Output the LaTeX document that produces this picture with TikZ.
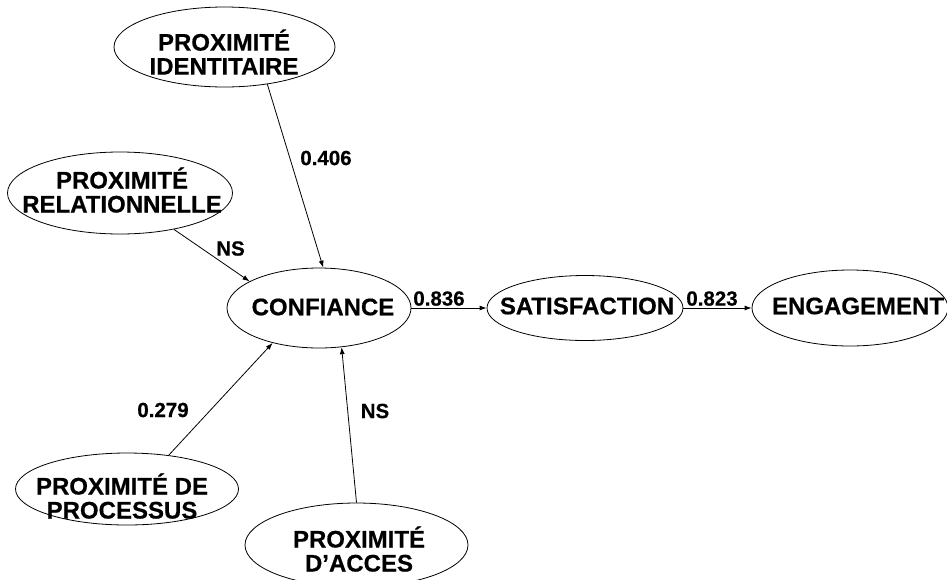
\documentclass[tikz,border=0pt]{standalone}
\usepackage{fontspec}
\setmainfont{Liberation Sans}[BoldFeatures={FakeBold=0.5}]
\usetikzlibrary{shapes.geometric,arrows.meta}
\tikzset{
  ell/.style={draw=black, line width=0.8pt, shape=ellipse, inner sep=0pt},
  nodetext/.style={font=\fontsize{24}{24}\selectfont\bfseries, align=center, inner sep=0pt, text=black},
  conn/.style={draw=black, line width=0.8pt, -{Latex[length=7pt,width=5pt]}},
  coef/.style={font=\fontsize{20.5}{22}\selectfont\bfseries, inner sep=0pt, text=black}
}
\begin{document}
\begin{tikzpicture}[x=1pt,y=-1pt]
\useasboundingbox (0,0) rectangle (947,579);
% ellipses
\node[ell, minimum width=221pt, minimum height=80pt] (iden) at (224.5,47) {};
\node[ell, minimum width=225pt, minimum height=82pt] (rel) at (120,193) {};
\node[ell, minimum width=184pt, minimum height=80pt] (conf) at (319,308) {};
\node[ell, minimum width=196pt, minimum height=65pt] (sat) at (585,308) {};
\node[ell, minimum width=196pt, minimum height=76pt] (eng) at (850,308) {};
\node[ell, minimum width=223pt, minimum height=72pt] (proc) at (127,489) {};
\node[ell, minimum width=223pt, minimum height=84pt] (acc) at (356.5,545) {};
% texts
\node[nodetext] (iden-t) at (224,52) {PROXIMITÉ\\IDENTITAIRE};
\node[nodetext] (rel-t) at (122,190) {PROXIMITÉ\\RELATIONNELLE};
\node[nodetext] (conf-t) at (323,307) {CONFIANCE};
\node[nodetext] (sat-t) at (587,306) {SATISFACTION};
\node[nodetext] (eng-t) at (858,306) {ENGAGEMENT};
\node[nodetext] (proc-t) at (122,496) {PROXIMITÉ DE\\PROCESSUS};
\node[nodetext] (acc-t) at (359,549) {PROXIMITÉ\\D’ACCES};
% connectors
\draw[conn] (iden.-41) -- (conf.84);
\draw[conn] (rel.-34) -- (conf.159);
\draw[conn] (proc.39) -- (conf.217);
\draw[conn] (acc.90) -- (conf.300);
\draw[conn] (conf.east) -- (sat.west);
\draw[conn] (sat.east) -- (eng.west);
% coefficients
\node[coef] (c1) at (326,158) {0.406};
\node[coef] (c2) at (230.5,248.5) {NS};
\node[coef] (c3) at (163,410) {0.279};
\node[coef] (c4) at (375,411) {NS};
\node[coef, anchor=south] (c5) at (439,306) {0.836};
\node[coef, anchor=south] (c6) at (712,306) {0.823};
\end{tikzpicture}
\end{document}
